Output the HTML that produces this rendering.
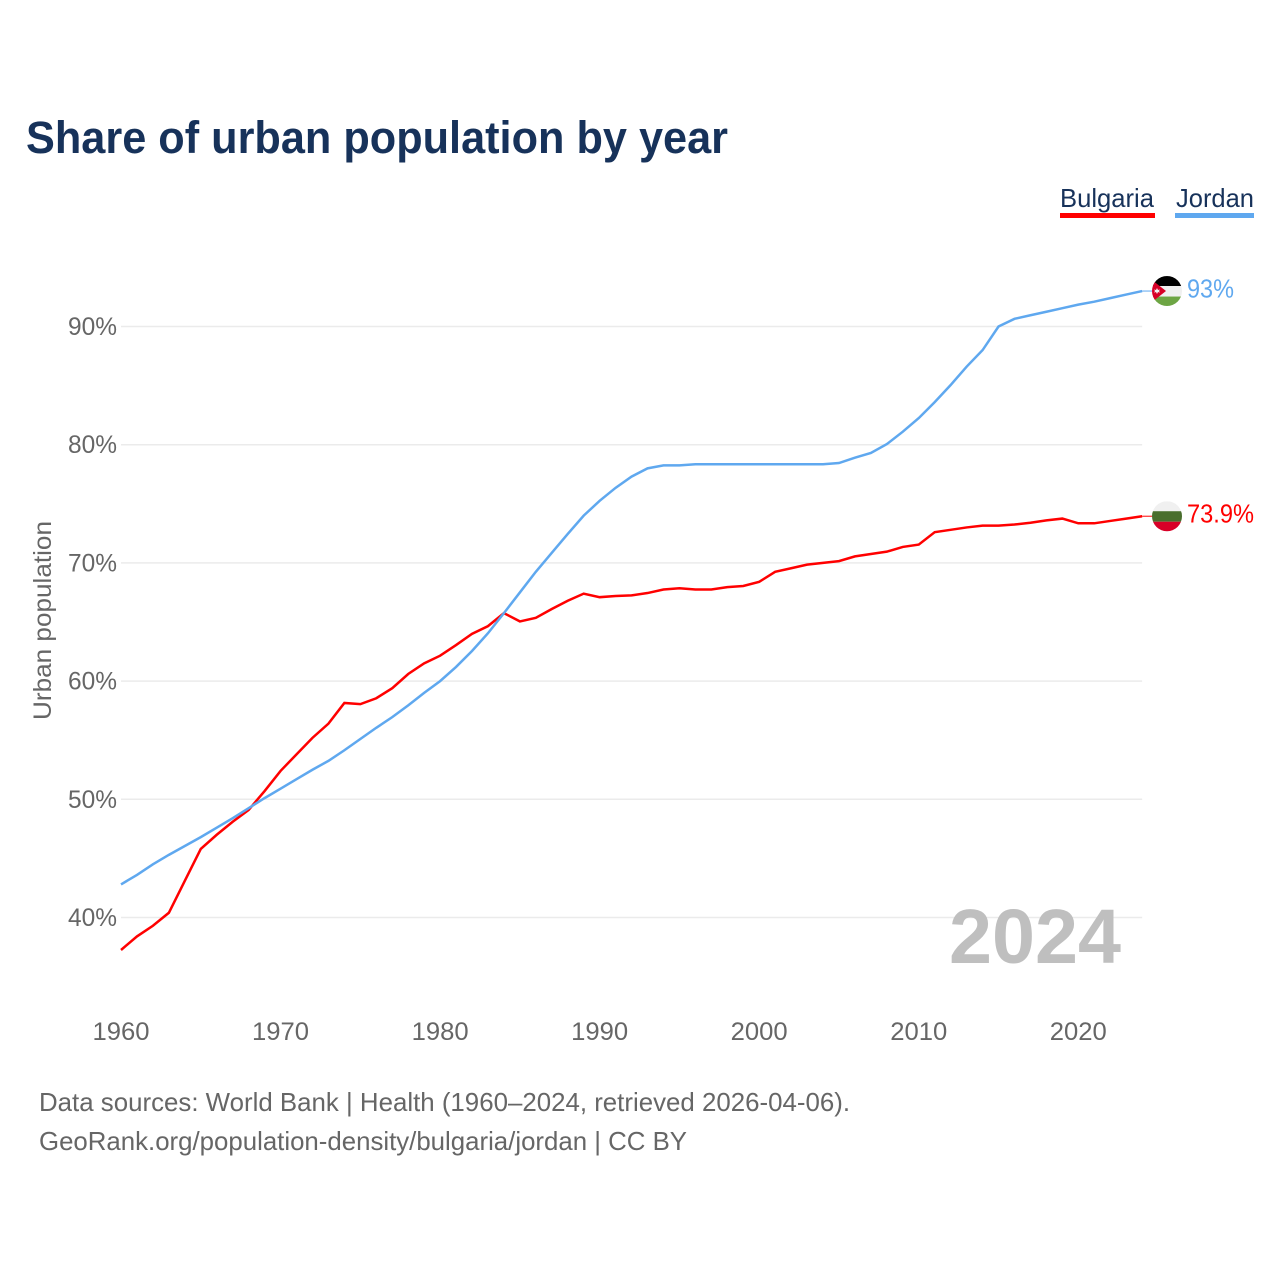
<!DOCTYPE html>
<html lang="en">
<head>
<meta charset="utf-8">
<title>Share of urban population by year</title>
<style>
  html, body { margin: 0; padding: 0; background: #ffffff; }
  svg { display: block; font-family: "Liberation Sans", sans-serif; }
</style>
</head>
<body>
<svg id="chart" xmlns="http://www.w3.org/2000/svg" width="1280" height="1280" viewBox="0 0 1280 1280">
  <defs>
    <clipPath id="flag-clip"><circle cx="0" cy="0" r="15"></circle></clipPath>
  </defs>
  <rect x="0" y="0" width="1280" height="1280" fill="#ffffff"></rect>
  <text x="26" y="153" font-size="45" font-weight="700" fill="#17325a" textLength="702" lengthAdjust="spacingAndGlyphs">Share of urban population by year</text>

  <g>
    <text x="1060" y="207" font-size="26" fill="#17325a" textLength="94" lengthAdjust="spacingAndGlyphs">Bulgaria</text>
    <rect x="1060" y="213" width="95" height="5" fill="#ff0000"></rect>
    <text x="1176" y="207" font-size="26" fill="#17325a" textLength="78" lengthAdjust="spacingAndGlyphs">Jordan</text>
    <rect x="1175" y="213" width="79" height="5" fill="#5fa8ef"></rect>
  </g>

  <g id="grid"></g>
  <g id="y-ticks"></g>
  <g id="x-ticks"></g>
  <text transform="translate(51,720) rotate(-90)" x="0" y="0" font-size="25" fill="#666666" textLength="199" lengthAdjust="spacingAndGlyphs">Urban population</text>

  <text x="949" y="963" font-size="77" font-weight="700" fill="#bfbfbf" textLength="172" lengthAdjust="spacingAndGlyphs">2024</text>

  <g id="series"></g>

  <g id="flag-jordan">
    <g clip-path="url(#flag-clip)">
      <rect x="-15" y="-15" width="30" height="10" fill="#000000"></rect>
      <rect x="-15" y="-5" width="30" height="10.5" fill="#f0f0f0"></rect>
      <rect x="-15" y="5.5" width="30" height="10" fill="#6da544"></rect>
      <polygon points="-15,-11 -1,0 -15,11" fill="#d80027"></polygon>
      <polygon points="-10,-3 -9,-1 -7,-1.6 -8,0 -7,1.6 -9,1 -10,3 -11,1 -13,1.6 -12,0 -13,-1.6 -11,-1" fill="#f0f0f0"></polygon>
    </g>
  </g>
  <g id="flag-bulgaria">
    <g clip-path="url(#flag-clip)">
      <rect x="-15" y="-15" width="30" height="10" fill="#f0f0f0"></rect>
      <rect x="-15" y="-5" width="30" height="10.5" fill="#496e2d"></rect>
      <rect x="-15" y="5.5" width="30" height="10" fill="#d80027"></rect>
    </g>
  </g>
  <text id="end-label-jordan" x="1187" font-size="26" fill="#5fa8ef" textLength="47" lengthAdjust="spacingAndGlyphs">93%</text>
  <text id="end-label-bulgaria" x="1187" font-size="26" fill="#ff0000" textLength="67" lengthAdjust="spacingAndGlyphs">73.9%</text>

  <text x="39" y="1111" font-size="26" fill="#666666" textLength="811" lengthAdjust="spacingAndGlyphs">Data sources: World Bank | Health (1960–2024, retrieved 2026-04-06).</text>
  <text x="39" y="1150" font-size="26" fill="#666666" textLength="648" lengthAdjust="spacingAndGlyphs">GeoRank.org/population-density/bulgaria/jordan | CC BY</text>
</svg>

<script>
const firstYear = 1960;
const xTickYears = [1960, 1970, 1980, 1990, 2000, 2010, 2020];
const yTickValues = [40, 50, 60, 70, 80, 90];
const bulgariaValues = [
  37.25, 38.4, 39.3, 40.4, 43.1, 45.8, 47.0, 48.1, 49.1, 50.7,
  52.4, 53.8, 55.2, 56.4, 58.15, 58.05, 58.55, 59.4, 60.6, 61.5,
  62.15, 63.05, 64.0, 64.65, 65.75, 65.05, 65.35, 66.1, 66.8, 67.4,
  67.1, 67.2, 67.25, 67.45, 67.75, 67.85, 67.75, 67.75, 67.95, 68.05,
  68.4, 69.25, 69.55, 69.85, 70.0, 70.15, 70.55, 70.75, 70.95, 71.35,
  71.55, 72.6, 72.8, 73.0, 73.15, 73.15, 73.25, 73.4, 73.6, 73.75,
  73.35, 73.35, 73.55, 73.75, 73.95
];
const jordanValues = [
  42.8, 43.6, 44.5, 45.3, 46.05, 46.8, 47.6, 48.4, 49.25, 50.1,
  50.9, 51.7, 52.5, 53.25, 54.15, 55.1, 56.05, 56.95, 57.95, 59.0,
  60.0, 61.2, 62.55, 64.05, 65.75, 67.5, 69.25, 70.85, 72.45, 74.0,
  75.25, 76.35, 77.3, 78.0, 78.25, 78.25, 78.35, 78.35, 78.35, 78.35,
  78.35, 78.35, 78.35, 78.35, 78.35, 78.45, 78.9, 79.3, 80.05, 81.1,
  82.25, 83.6, 85.05, 86.6, 88.0, 90.0, 90.65, 90.95, 91.25, 91.55,
  91.85, 92.1, 92.4, 92.7, 93.0
];

const SVG_NS = 'http://www.w3.org/2000/svg';
const xScale = function (year) { return 121 + (year - 1960) * 15.955; };
const yScale = function (value) { return 917.5 - (value - 40) * 11.82; };

const gridGroup = document.getElementById('grid');
const yTickGroup = document.getElementById('y-ticks');
yTickValues.forEach(function (value) {
  const line = document.createElementNS(SVG_NS, 'line');
  
  
  line.setAttribute('x1', xScale(1960));
  line.setAttribute('x2', xScale(2024));
  line.setAttribute('y1', yScale(value));
  line.setAttribute('y2', yScale(value));
  line.setAttribute('stroke', '#ebebeb');
  line.setAttribute('stroke-width', '1.5');
  gridGroup.appendChild(line);

  const label = document.createElementNS(SVG_NS, 'text');
  
  
  label.setAttribute('x', 117);
  label.setAttribute('y', yScale(value) + 8.5);
  label.setAttribute('text-anchor', 'end');
  label.setAttribute('font-size', '25');
  label.setAttribute('fill', '#666666');
  label.setAttribute('textLength', '49');
  label.setAttribute('lengthAdjust', 'spacingAndGlyphs');
  label.textContent = value + '%';
  yTickGroup.appendChild(label);
});

const xTickGroup = document.getElementById('x-ticks');
xTickYears.forEach(function (year) {
  const label = document.createElementNS(SVG_NS, 'text');
  
  
  label.setAttribute('x', xScale(year) - 28.5);
  label.setAttribute('y', 1040);
  label.setAttribute('font-size', '25');
  label.setAttribute('fill', '#666666');
  label.setAttribute('textLength', '57');
  label.setAttribute('lengthAdjust', 'spacingAndGlyphs');
  label.textContent = String(year);
  xTickGroup.appendChild(label);
});

const seriesGroup = document.getElementById('series');
function pointsFor(values) {
  return values.map(function (value, index) {
    return xScale(firstYear + index).toFixed(2) + ',' + yScale(value).toFixed(2);
  }).join(' ');
}

const bulgariaLine = document.createElementNS(SVG_NS, 'polyline');


bulgariaLine.setAttribute('points', pointsFor(bulgariaValues));
bulgariaLine.setAttribute('fill', 'none');
bulgariaLine.setAttribute('stroke', '#ff0000');
bulgariaLine.setAttribute('stroke-width', '2.5');
seriesGroup.appendChild(bulgariaLine);

const jordanLine = document.createElementNS(SVG_NS, 'polyline');


jordanLine.setAttribute('points', pointsFor(jordanValues));
jordanLine.setAttribute('fill', 'none');
jordanLine.setAttribute('stroke', '#5fa8ef');
jordanLine.setAttribute('stroke-width', '2.5');
seriesGroup.appendChild(jordanLine);

const bulgariaEnd = bulgariaValues[bulgariaValues.length - 1];
const jordanEnd = jordanValues[jordanValues.length - 1];

const bulgariaLeader = document.createElementNS(SVG_NS, 'line');


bulgariaLeader.setAttribute('x1', xScale(2024));
bulgariaLeader.setAttribute('x2', 1152);
bulgariaLeader.setAttribute('y1', yScale(bulgariaEnd));
bulgariaLeader.setAttribute('y2', yScale(bulgariaEnd));
bulgariaLeader.setAttribute('stroke', '#ff0000');
bulgariaLeader.setAttribute('stroke-width', '1');
seriesGroup.appendChild(bulgariaLeader);

const jordanLeader = document.createElementNS(SVG_NS, 'line');


jordanLeader.setAttribute('x1', xScale(2024));
jordanLeader.setAttribute('x2', 1152);
jordanLeader.setAttribute('y1', yScale(jordanEnd));
jordanLeader.setAttribute('y2', yScale(jordanEnd));
jordanLeader.setAttribute('stroke', '#5fa8ef');
jordanLeader.setAttribute('stroke-width', '1');
seriesGroup.appendChild(jordanLeader);

document.getElementById('flag-bulgaria').setAttribute('transform', 'translate(1167,' + yScale(bulgariaEnd) + ')');
document.getElementById('flag-jordan').setAttribute('transform', 'translate(1167,' + yScale(jordanEnd) + ')');
document.getElementById('end-label-bulgaria').setAttribute('y', yScale(bulgariaEnd) + 6.5);
document.getElementById('end-label-jordan').setAttribute('y', yScale(jordanEnd) + 6.5);
</script>
</body>
</html>
